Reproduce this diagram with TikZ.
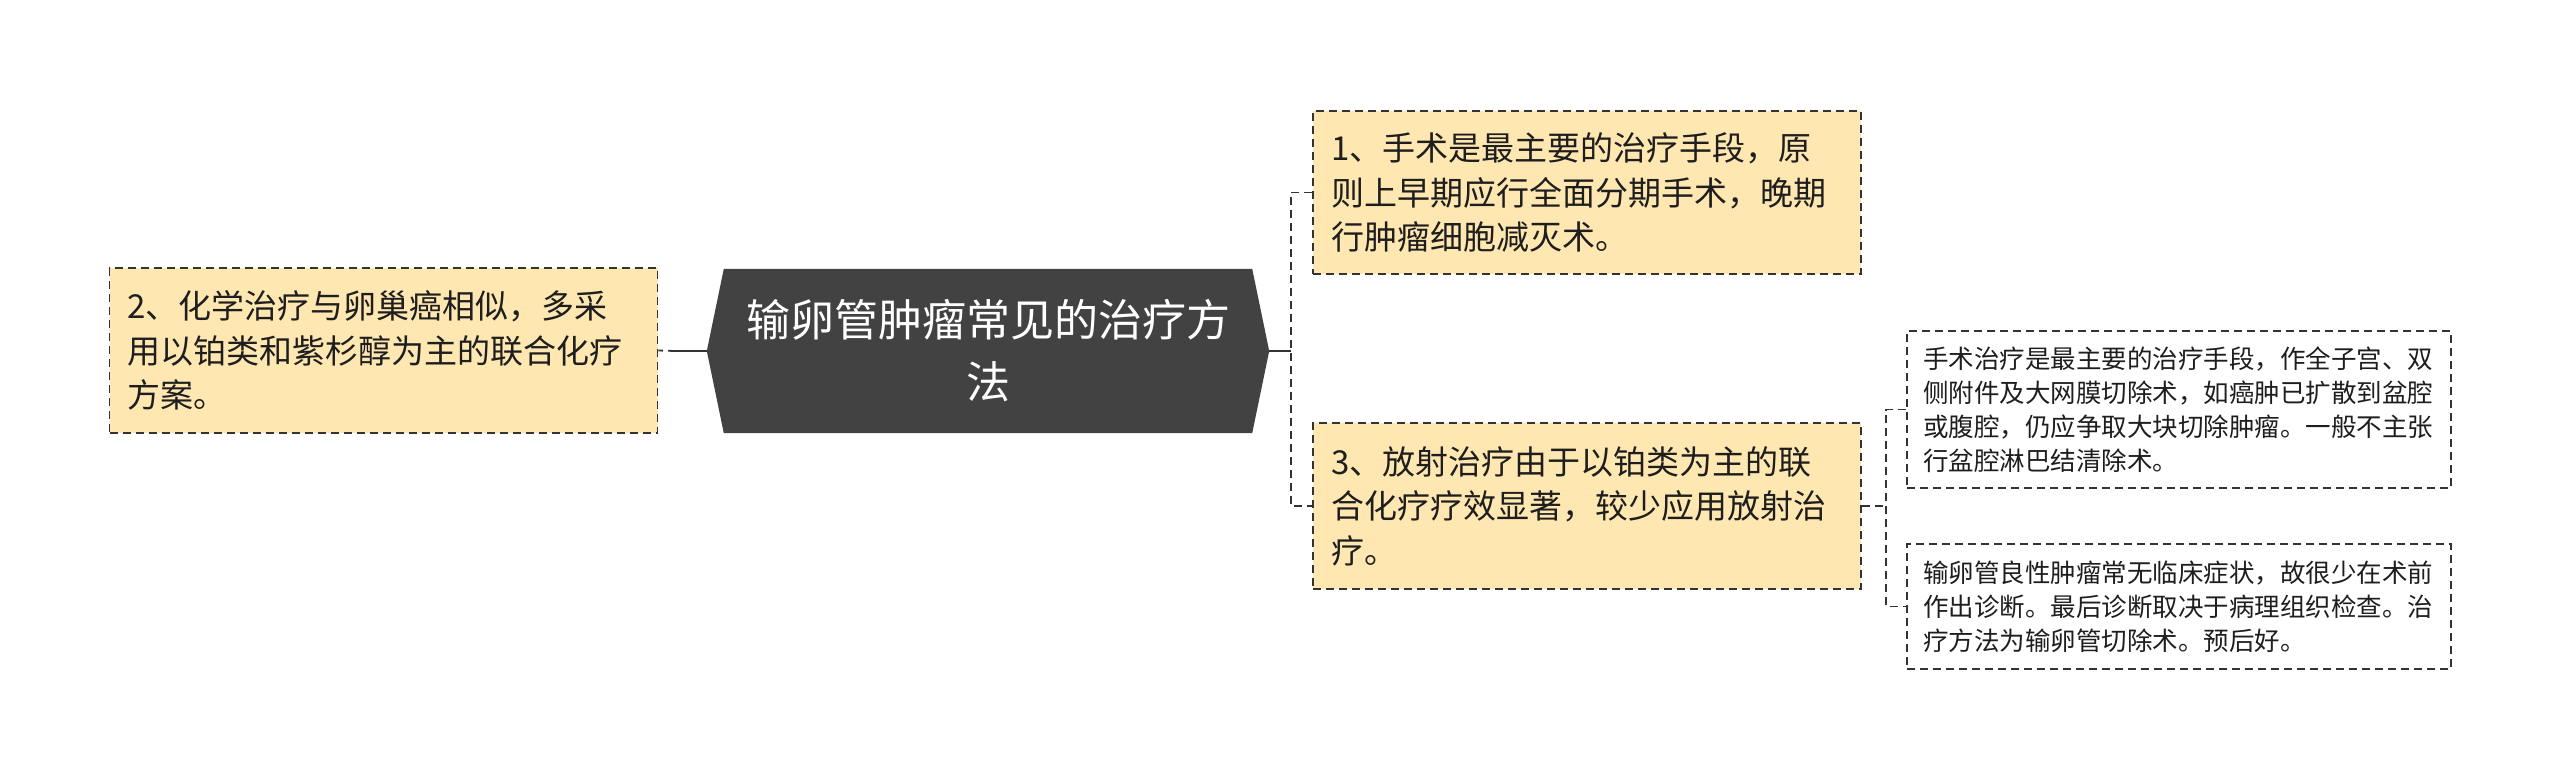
\documentclass[tikz,border=0pt]{standalone}
\usepackage{fontspec}
\setmainfont{Noto Sans CJK SC}
\usetikzlibrary{backgrounds}
\definecolor{boxfill}{RGB}{255,231,178}
\definecolor{rootfill}{RGB}{66,66,66}
\definecolor{linec}{RGB}{51,51,51}
\definecolor{txt}{RGB}{30,30,30}
\tikzset{
  dashline/.style={draw=linec, line width=1.8pt, dash pattern=on 8pt off 5pt},
  solidline/.style={draw=linec, line width=2.6pt},
  ybox/.style={dashline, fill=boxfill, inner xsep=18pt, inner ysep=0pt, align=left,
    text=txt, font=\fontsize{33}{44.5}\selectfont, text width=512pt},
  wbox/.style={dashline, fill=white, inner xsep=16pt, inner ysep=0pt, align=left,
    text=txt, font=\fontsize{25.5}{34}\selectfont, text width=512pt},
  rootnode/.style={inner sep=0pt, minimum width=562pt, minimum height=164pt,
    align=center, text=white, font=\fontsize{44}{62}\selectfont}
}
\begin{document}
\begin{tikzpicture}[x=1pt,y=-1pt]
\useasboundingbox (0,0) rectangle (2560,780);

\node[rootnode] (c) at (988,351) {输卵管肿瘤常见的治疗方\\法};
\begin{scope}[on background layer]
\fill[white] (0,0) rectangle (2560,780);
\fill[rootfill] (c.west) -- ([xshift=17pt]c.north west) -- ([xshift=-17pt]c.north east)
  -- (c.east) -- ([xshift=-17pt]c.south east) -- ([xshift=17pt]c.south west) -- cycle;
\end{scope}

\node[ybox, minimum height=165pt] (l) at (383.5,350.5)
  {2、化学治疗与卵巢癌相似，多采\\用以铂类和紫杉醇为主的联合化疗\\方案。};
\node[ybox, minimum height=163pt] (rt) at (1587,192.5)
  {1、手术是最主要的治疗手段，原\\则上早期应行全面分期手术，晚期\\行肿瘤细胞减灭术。};
\node[ybox, minimum height=166pt] (rb) at (1587,506)
  {3、放射治疗由于以铂类为主的联\\合化疗疗效显著，较少应用放射治\\疗。};
\node[wbox, minimum height=157pt] (ft) at (2179,409.5)
  {手术治疗是最主要的治疗手段，作全子宫、双\\侧附件及大网膜切除术，如癌肿已扩散到盆腔\\或腹腔，仍应争取大块切除肿瘤。一般不主张\\行盆腔淋巴结清除术。};
\node[wbox, minimum height=125pt] (fb) at (2179,606.5)
  {输卵管良性肿瘤常无临床症状，故很少在术前\\作出诊断。最后诊断取决于病理组织检查。治\\疗方法为输卵管切除术。预后好。};

\coordinate (jl) at (676,351);
\coordinate (jr) at (1291,351);
\coordinate (jr2) at (1886,506);

\draw[solidline] (c.west) -- (jl);
\draw[dashline] (jl) -- (l.east);
\draw[solidline] (c.east) -- (jr);
\draw[dashline] (rt.west) -- (rt.west -| jr) -- (rb.west -| jr) -- (rb.west);
\draw[dashline] (rb.east) -- (jr2);
\draw[dashline] (ft.west) -- (ft.west -| jr2) -- (fb.west -| jr2) -- (fb.west);
\end{tikzpicture}
\end{document}
